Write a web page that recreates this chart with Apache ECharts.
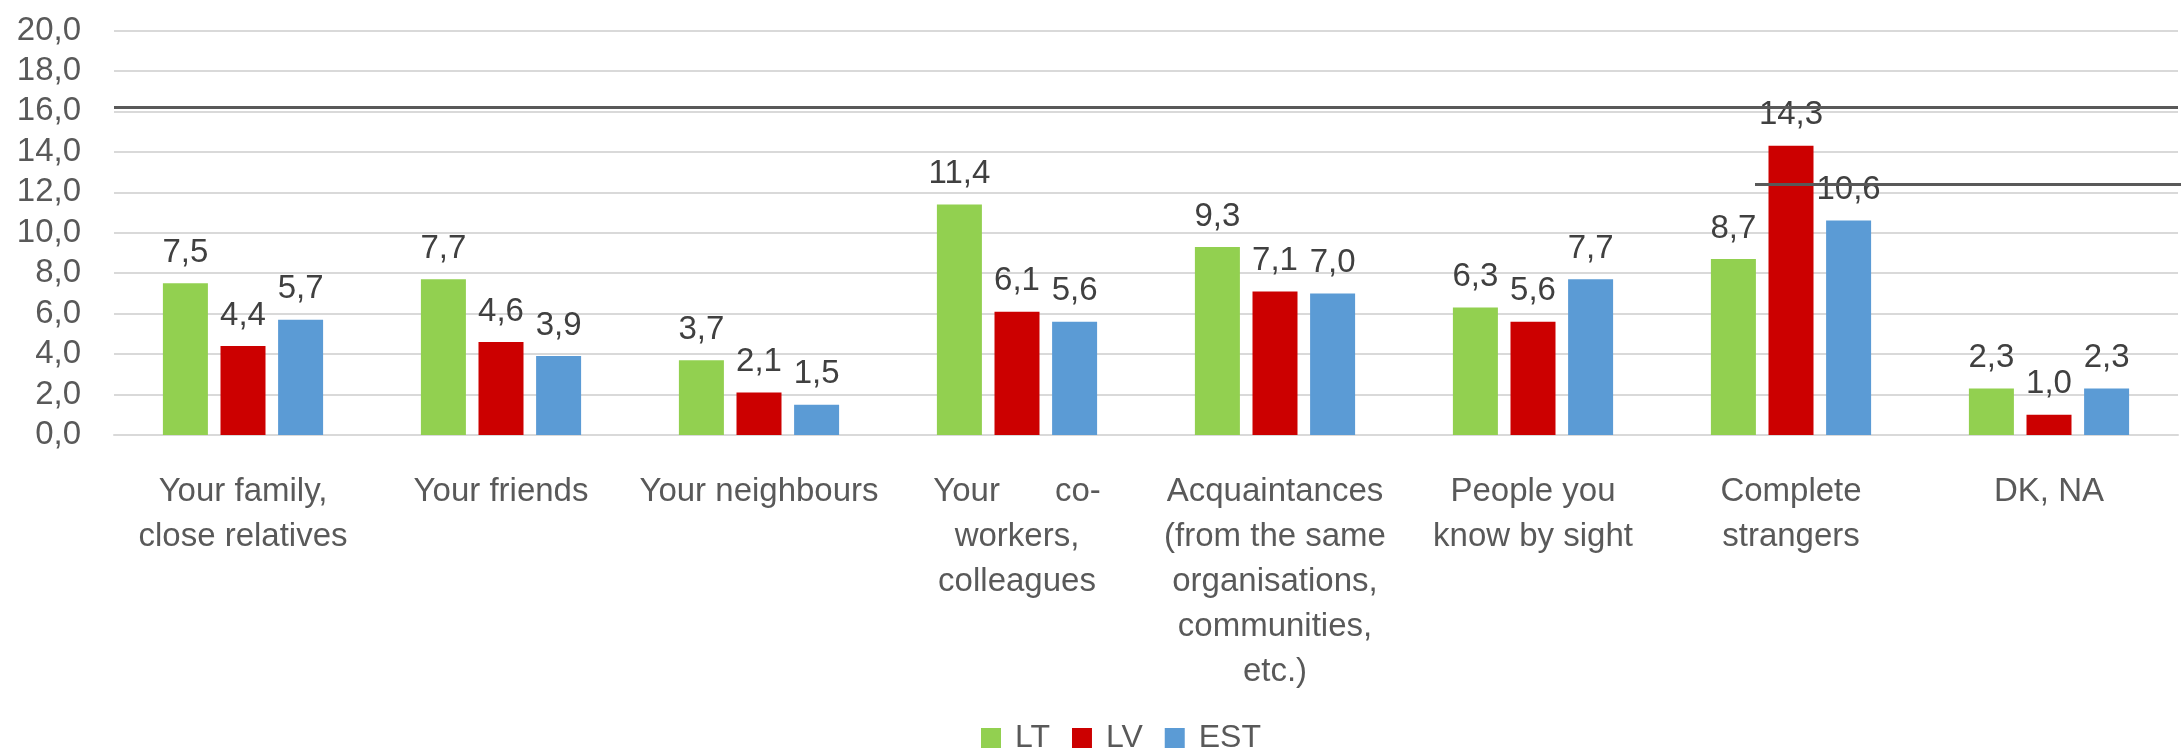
<!DOCTYPE html>
<html><head><meta charset="utf-8">
<script src="https://cdn.jsdelivr.net/npm/echarts@6/dist/echarts.min.js"></script>
<style>html,body{margin:0;padding:0;background:#fff}#c{width:2181px;height:750px}</style>
</head><body><div id="c"></div>
<script>
const categories = [
  "Your family,\nclose relatives",
  "Your friends",
  "Your neighbours",
  "Your      co-\nworkers,\ncolleagues",
  "Acquaintances\n(from the same\norganisations,\ncommunities,\netc.)",
  "People you\nknow by sight",
  "Complete\nstrangers",
  "DK, NA"
];
const seriesNames = ["LT", "LV", "EST"];
const LT  = [7.5, 7.7, 3.7, 11.4, 9.3, 6.3, 8.7, 2.3];
const LV  = [4.4, 4.6, 2.1, 6.1, 7.1, 5.6, 14.3, 1.0];
const EST = [5.7, 3.9, 1.5, 5.6, 7.0, 7.7, 10.6, 2.3];
const colors = ["#92D050", "#CC0000", "#5B9BD5"];

const FONT = "Liberation Sans";
const fmt = v => v.toFixed(1).replace('.', ',');

const chart = echarts.init(document.getElementById('c'), null, {renderer: 'canvas'});
const mkSeries = (name, data, color, extra) => Object.assign({
  name, type: 'bar', data,
  barWidth: 45, barGap: '28%',
  itemStyle: {color},
  label: {
    show: true, position: 'top', distance: 14,
    color: '#404040', fontFamily: FONT, fontSize: 33,
    formatter: p => fmt(p.value)
  }
}, extra || {});

chart.setOption({
  animation: false,
  textStyle: {fontFamily: FONT},
  grid: {left: 114, right: 3, top: 30.5, bottom: 315, containLabel: false},
  legend: {
    data: seriesNames, left: 976, top: 717,
    itemWidth: 20, itemHeight: 20, itemGap: 22, icon: 'rect',
    textStyle: {color: '#595959', fontSize: 32, fontFamily: FONT, padding: [0, 0, 0, 9]}
  },
  xAxis: {
    type: 'category', data: categories,
    axisLine: {lineStyle: {color: '#d9d9d9', width: 2}},
    axisTick: {show: false},
    axisLabel: {
      interval: 0, color: '#595959', fontSize: 33, fontFamily: FONT,
      lineHeight: 45, margin: 34, align: 'center'
    }
  },
  yAxis: {
    type: 'value', min: 0, max: 20, interval: 2,
    axisLine: {show: false}, axisTick: {show: false},
    splitLine: {lineStyle: {color: '#d9d9d9', width: 2}},
    axisLabel: {
      color: '#595959', fontSize: 33, fontFamily: FONT, margin: 33,
      padding: [0, 0, 6, 0],
      formatter: v => fmt(v)
    }
  },
  series: [
    mkSeries(seriesNames[0], LT, colors[0], {
      markLine: {
        silent: true, symbol: 'none', label: {show: false},
        lineStyle: {color: '#595959', width: 3, type: 'solid'},
        data: [
          {yAxis: 16.2},
          [{x: 1755, yAxis: 12.4}, {x: 2181, yAxis: 12.4}]
        ]
      }
    }),
    mkSeries(seriesNames[1], LV, colors[1]),
    mkSeries(seriesNames[2], EST, colors[2])
  ]
});
</script></body></html>
